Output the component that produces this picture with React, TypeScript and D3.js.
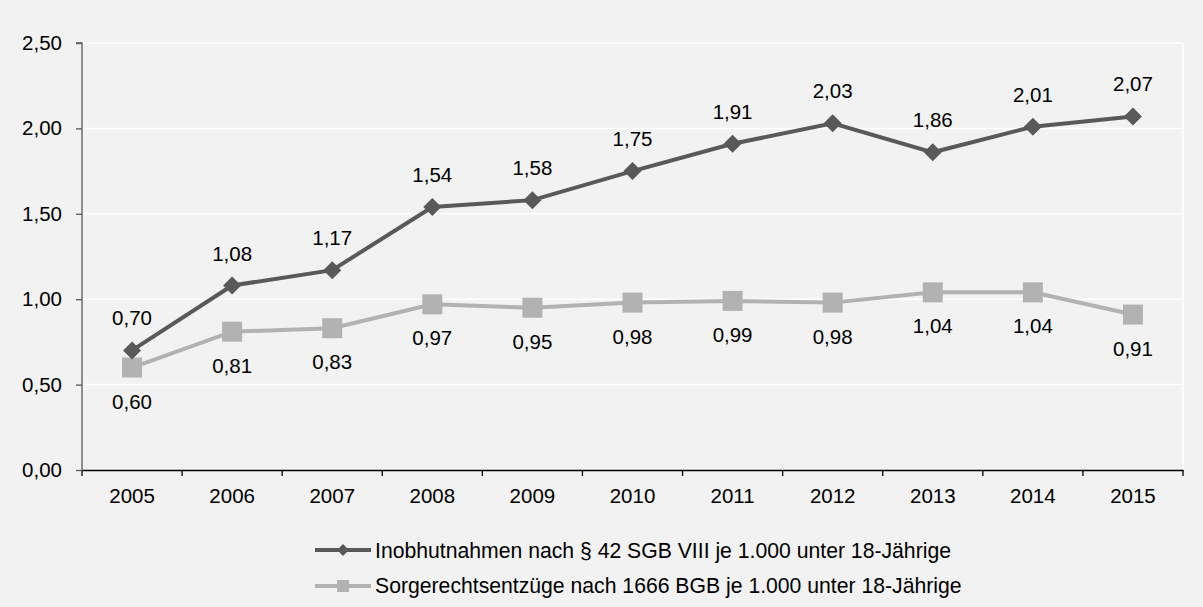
import * as d3 from "d3";
import { useEffect, useRef } from "react";

const years = ["2005", "2006", "2007", "2008", "2009", "2010", "2011", "2012", "2013", "2014", "2015"];
const inobhut = [0.70, 1.08, 1.17, 1.54, 1.58, 1.75, 1.91, 2.03, 1.86, 2.01, 2.07];
const sorgerecht = [0.60, 0.81, 0.83, 0.97, 0.95, 0.98, 0.99, 0.98, 1.04, 1.04, 0.91];
const yTicks = [0, 0.5, 1, 1.5, 2, 2.5];
const seriesNames = [
  "Inobhutnahmen nach § 42 SGB VIII je 1.000 unter 18-Jährige",
  "Sorgerechtsentzüge nach 1666 BGB je 1.000 unter 18-Jährige",
];

const darkColor = "#595959";
const lightColor = "#b2b2b2";
const font = "'Liberation Sans', Arial, sans-serif";

export default function App({
  width = 1203,
  height = 607,
  marginTop = 43,
  marginRight = 20,
  marginBottom = 137,
  marginLeft = 82,
}: {
  width?: number,
  height?: number,
  marginTop?: number,
  marginRight?: number,
  marginBottom?: number,
  marginLeft?: number,
}) {
  const axisx: any = useRef();
  const axisy: any = useRef();

  const x: any = d3.scaleBand(years, [marginLeft, width - marginRight]);
  const y: any = d3.scaleLinear([0, 2.5], [height - marginBottom, marginTop]);
  const cx = (i: number) => x(years[i]) + x.bandwidth() / 2;

  const line = d3.line<number>()
    .x((_, i) => cx(i))
    .y(d => y(d));

  const fmt = (v: number) => d3.format(".2f")(v).replace(".", ",");

  useEffect(() => {
    d3.select(axisx.current)
      .call(d3.axisBottom(x).tickSize(0).tickFormat((d: any) => d))
      .call(g => g.select(".domain").attr("stroke", "#000").attr("stroke-width", 1.3))
      .call(g => g.selectAll(".tick text")
        .attr("dy", 0)
        .attr("y", 33)
        .attr("font-size", 20.5)
        .attr("font-family", font)
        .attr("fill", "#000"));
    // tick marks at band edges
    d3.select(axisx.current).selectAll(".edge").remove();
    d3.select(axisx.current).selectAll(".edge")
      .data([...years.map(d => x(d)), width - marginRight])
      .join("line")
      .attr("class", "edge")
      .attr("x1", d => d).attr("x2", d => d)
      .attr("y1", 0).attr("y2", 6)
      .attr("stroke", "#000")
      .attr("stroke-width", 1.3);

    d3.select(axisy.current)
      .call(d3.axisLeft(y).tickValues(yTicks).tickSize(6).tickPadding(14).tickFormat((d: any) => fmt(d)))
      .call(g => g.select(".domain").attr("stroke", darkColor).attr("stroke-width", 1.3).attr("d", `M-6,${y(2.5)}H0V${y(0)}`))
      .call(g => g.selectAll(".tick line").attr("stroke", darkColor).attr("stroke-width", 1.3))
      .call(g => g.selectAll(".tick text")
        .attr("font-size", 20.5)
        .attr("font-family", font)
        .attr("fill", "#000"));
  }, [x, y, width, marginRight]);

  const diamond = (px: number, py: number, r: number) =>
    `M${px},${py - r}L${px + r},${py}L${px},${py + r}L${px - r},${py}Z`;

  return (
    <svg width={width} height={height} style={{ position: "absolute", left: 0, top: 0, background: "#f2f2f2" }}>
      <rect x={0} y={0} width={width} height={height} fill="#f2f2f2" />
      <g>
        {yTicks.filter(t => t > 0).map(t => (
          <line key={t} x1={marginLeft} x2={width - marginRight} y1={y(t)} y2={y(t)} stroke="#fff" strokeWidth={1.5} />
        ))}
        <line x1={width - marginRight} x2={width - marginRight} y1={marginTop} y2={height - marginBottom} stroke="#fff" strokeWidth={1.5} />
      </g>
      <g ref={axisx} transform={`translate(0, ${height - marginBottom})`} />
      <g ref={axisy} transform={`translate(${marginLeft}, 0)`} />

      <path fill="none" stroke={lightColor} strokeWidth={4} d={line(sorgerecht) as string} />
      <g fill={lightColor}>
        {sorgerecht.map((d, i) => (
          <rect key={i} x={cx(i) - 10} y={y(d) - 10} width={20} height={20} />
        ))}
      </g>
      <path fill="none" stroke={darkColor} strokeWidth={4} d={line(inobhut) as string} />
      <g fill={darkColor}>
        {inobhut.map((d, i) => (
          <path key={i} d={diamond(cx(i), y(d), 9)} />
        ))}
      </g>

      <g fontFamily={font} fontSize={20.5} fill="#000" textAnchor="middle">
        {inobhut.map((d, i) => (
          <text key={i} x={cx(i)} y={y(d) - 25}>{fmt(d)}</text>
        ))}
        {sorgerecht.map((d, i) => (
          <text key={i} x={cx(i)} y={y(d) + 41}>{fmt(d)}</text>
        ))}
      </g>

      <g fontFamily={font} fontSize={21.2} fill="#000">
        <line x1={315} x2={371} y1={550} y2={550} stroke={darkColor} strokeWidth={4} />
        <path d={diamond(343, 550, 6)} fill={darkColor} />
        <text x={375} y={558}>{seriesNames[0]}</text>
        <line x1={315} x2={371} y1={586} y2={586} stroke={lightColor} strokeWidth={4} />
        <rect x={337} y={580} width={12} height={12} fill={lightColor} />
        <text x={375} y={593}>{seriesNames[1]}</text>
      </g>
    </svg>
  );
}
